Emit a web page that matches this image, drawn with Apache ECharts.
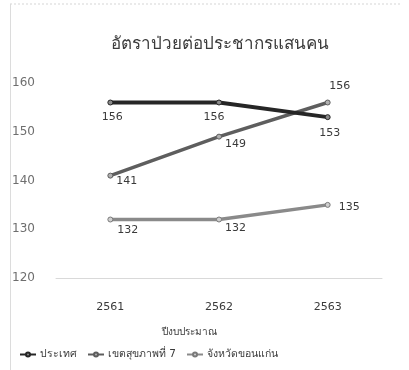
<!DOCTYPE html>
<html>
<head>
<meta charset="utf-8">
<script src="https://cdn.jsdelivr.net/npm/echarts@6/dist/echarts.min.js"></script>
<style>
  html, body { margin: 0; padding: 0; background: #ffffff; }
  #chart { width: 409px; height: 370px; }
</style>
</head>
<body>
<div id="chart"></div>
<script>
// Fiscal years and morbidity rates per 100,000 population
const years = ['2561', '2562', '2563'];
const seriesNames = ['ประเทศ', 'เขตสุขภาพที่ 7', 'จังหวัดขอนแก่น'];
const country = [156, 156, 153];
const region7 = [141, 149, 156];
const khonKaen = [132, 132, 135];
const yTicks = [120, 130, 140, 150, 160];

const FONT = 'Tahoma, "DejaVu Sans", "Noto Sans", sans-serif';
const labelStyle = { color: '#3a3a3a', fontSize: 11, fontFamily: FONT };

// Per-point label placement (Excel-style offsets around each marker)
function withLabels(values, placements) {
  return values.map((v, i) => ({
    value: v,
    label: Object.assign({ show: true, formatter: '{c}' }, labelStyle, placements[i])
  }));
}

const chart = echarts.init(document.getElementById('chart'), null, { renderer: 'canvas' });

chart.setOption({
  backgroundColor: '#ffffff',
  animation: false,
  title: {
    text: 'อัตราป่วยต่อประชากรแสนคน',
    left: 215,
    top: 31,
    textAlign: 'center',
    textStyle: { color: '#3c3c3c', fontSize: 17, fontWeight: 'normal', fontFamily: FONT }
  },
  legend: {
    data: seriesNames,
    left: 14,
    top: 344,
    itemWidth: 16,
    itemHeight: 5,
    itemGap: 10,
    textStyle: { color: '#3a3a3a', fontSize: 10.5, fontFamily: FONT, padding: [0, 0, 0, -1] }
  },
  grid: { left: 56, right: 27, top: 83, bottom: 92 },
  xAxis: {
    type: 'category',
    data: years,
    boundaryGap: true,
    name: 'ปีงบประมาณ',
    nameLocation: 'middle',
    nameGap: 49,
    nameTextStyle: { color: '#3a3a3a', fontSize: 10, fontFamily: FONT, padding: [0, 60, 0, 0] },
    axisLine: { show: true, lineStyle: { color: '#d9d9d9', width: 1 } },
    axisTick: { show: false },
    axisLabel: { color: '#3a3a3a', fontSize: 11, margin: 24, fontFamily: FONT }
  },
  yAxis: {
    type: 'value',
    min: yTicks[0],
    max: yTicks[yTicks.length - 1],
    interval: 10,
    axisLine: { show: false },
    axisTick: { show: false },
    splitLine: { show: false },
    axisLabel: { color: '#6e6e6e', fontSize: 12, margin: 21, fontFamily: FONT }
  },
  graphic: [
    { type: 'line', shape: { x1: 10, y1: 4, x2: 402, y2: 4 },
      style: { stroke: '#d6d6d6', lineWidth: 1, lineDash: [2, 2] } },
    { type: 'line', shape: { x1: 10.5, y1: 4, x2: 10.5, y2: 370 },
      style: { stroke: '#dcdcdc', lineWidth: 1 } }
  ],
  series: [
    {
      name: seriesNames[0],
      type: 'line',
      z: 4,
      data: withLabels(country, [
        { position: 'bottom', distance: 6, offset: [2, 0] },
        { position: 'bottom', distance: 6, offset: [-5, 0] },
        { position: 'bottom', distance: 8, offset: [2, 0] }
      ]),
      symbol: 'circle',
      symbolSize: 5,
      color: '#262626',
      lineStyle: { color: '#262626', width: 4 },
      itemStyle: { color: '#8a8a8a', borderColor: '#262626', borderWidth: 1 }
    },
    {
      name: seriesNames[1],
      type: 'line',
      z: 3,
      data: withLabels(region7, [
        { position: 'right', distance: 3, offset: [0, 6] },
        { position: 'right', distance: 3, offset: [0, 8] },
        { position: 'top', distance: 8, offset: [12, 0] }
      ]),
      symbol: 'circle',
      symbolSize: 5,
      color: '#5e5e5e',
      lineStyle: { color: '#5e5e5e', width: 3.5 },
      itemStyle: { color: '#b0b0b0', borderColor: '#5e5e5e', borderWidth: 1 }
    },
    {
      name: seriesNames[2],
      type: 'line',
      z: 2,
      data: withLabels(khonKaen, [
        { position: 'right', distance: 4, offset: [0, 11] },
        { position: 'right', distance: 3, offset: [0, 9] },
        { position: 'right', distance: 8, offset: [0, 2] }
      ]),
      symbol: 'circle',
      symbolSize: 5,
      color: '#8a8a8a',
      lineStyle: { color: '#8a8a8a', width: 3.5 },
      itemStyle: { color: '#cfcfcf', borderColor: '#7a7a7a', borderWidth: 1 }
    }
  ]
});
</script>
</body>
</html>
